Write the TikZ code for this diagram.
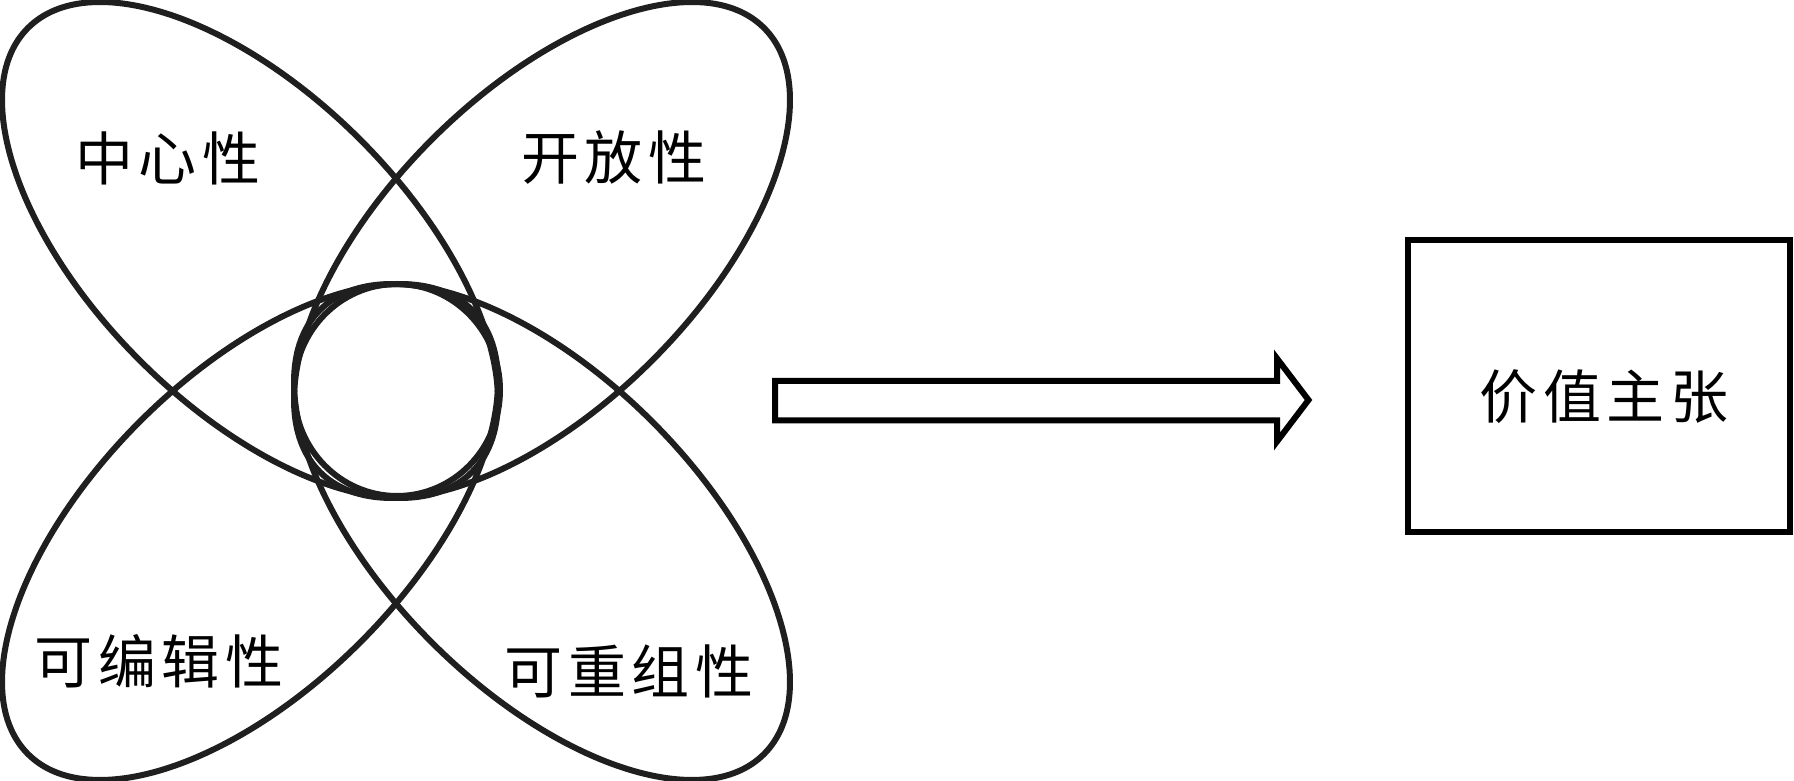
\documentclass[tikz,border=0pt]{standalone}
\usepackage{fontspec}
\newfontfamily\cjk[LetterSpace=10]{Noto Sans CJK SC}
\begin{document}
\begin{tikzpicture}[x=1pt,y=1pt,
  petal/.style={draw=black!88, line width=6pt},
  lbl/.style={font=\cjk\fontsize{58}{60}\selectfont, inner sep=0pt, text=black},
  boxstyle/.style={draw=black, line width=6pt, minimum width=382pt, minimum height=292pt, inner sep=0pt},
  arrowbody/.style={draw=black, line width=6pt, line join=miter}
]
\useasboundingbox (0,0) rectangle (1794,781);
% petals
\draw[petal, rotate around={-45:(250,531)}] (250,531) ellipse [x radius=314pt, y radius=156pt];
\draw[petal, rotate around={45:(542,531)}] (542,531) ellipse [x radius=314pt, y radius=156pt];
\draw[petal, rotate around={45:(250,249)}] (250,249) ellipse [x radius=314pt, y radius=156pt];
\draw[petal, rotate around={-45:(542,249)}] (542,249) ellipse [x radius=314pt, y radius=156pt];
% centre
\draw[petal] (397,391) ellipse [x radius=103pt, y radius=106pt];
% labels
\node[lbl] (central) at (168,623) {中心性};
\node[lbl] (open) at (614,623) {开放性};
\node[lbl] (edit) at (159,120) {可编辑性};
\node[lbl] (recomb) at (629,110) {可重组性};
% arrow
\draw[arrowbody] (775,400) -- (1277,400) -- (1277,422.5) -- (1308.5,381) -- (1277,339.5) -- (1277,360.6) -- (775,360.6) -- cycle;
% box
\node[boxstyle] (box) at (1598.5,394.5) {};
\node[lbl] (value) at (1604,384) {价值主张};
\end{tikzpicture}
\end{document}
